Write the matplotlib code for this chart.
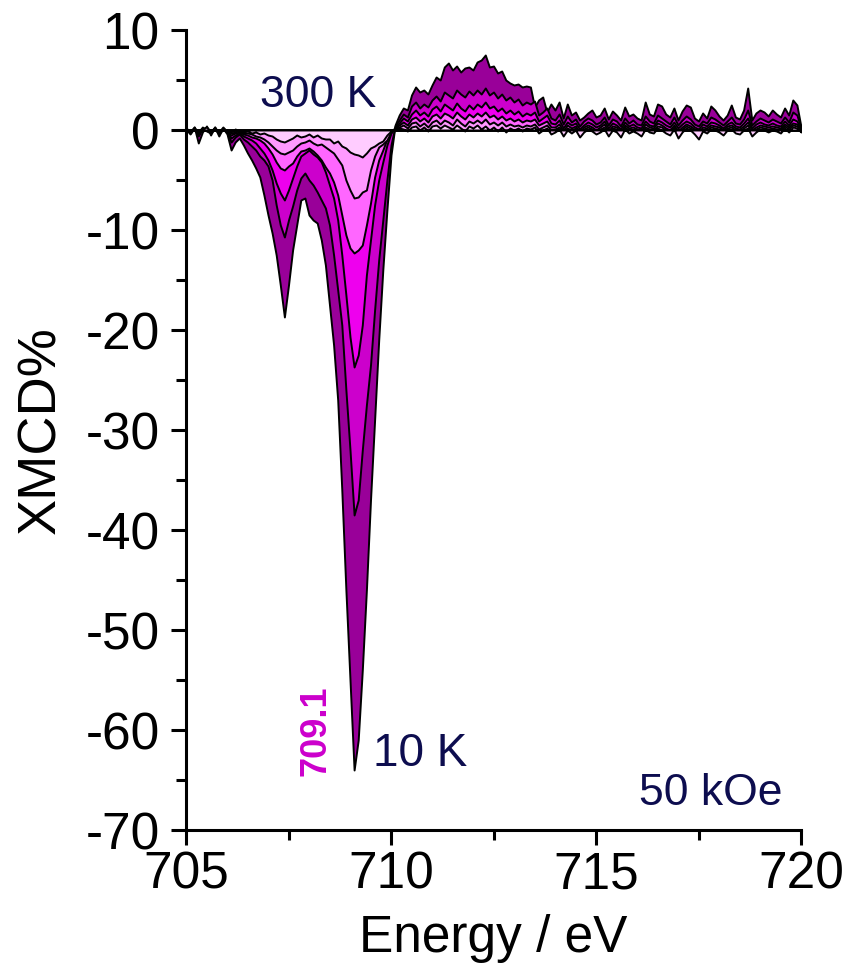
import matplotlib
matplotlib.use("Agg")
import matplotlib.pyplot as plt
from matplotlib.ticker import MultipleLocator
import numpy as np

plt.rcParams['font.family'] = ['Liberation Sans', 'DejaVu Sans']
plt.rcParams['axes.unicode_minus'] = False

# Energy grid (eV), 0.1 eV steps from 705.0 to 720.0
energy = np.round(np.linspace(705.0, 720.0, 151), 1)

# XMCD% curves, from lowest temperature (10 K) to highest (300 K)
xmcd_10K = [
    0.2, -0.3, 0.3, -1.3, -0.2, 0.4, -0.5, 0.3, -0.6, 0.2, -0.4, -2.0, -1.2, -0.8, -1.5,
    -2.3, -3.0, -3.8, -4.7, -6.5, -8.5, -10.3, -12.5, -15.5, -18.7, -15.5, -12.0, -9.5, -7.0, -6.8,
    -8.5, -9.0, -9.3, -11.0, -13.5, -17.5, -21.5, -27.0, -36.0, -46.0, -55.0, -64.0, -61.0, -54.0, -46.0, -37.0, -29.0, -21.0, -14.0, -8.0,
    -2.5, 0.5, 1.5, 2.2, 2.0, 3.5, 4.3, 3.8, 4.0, 3.6, 4.5, 5.3, 5.0, 6.3, 6.7, 6.0, 6.4, 5.8, 6.2, 6.3,
    6.0, 6.8, 7.0, 7.5, 6.3, 6.4, 5.7, 5.9, 5.0, 4.7, 4.5, 4.6, 4.3, 4.4, 4.3, 2.3, 3.0, 3.3, 1.8, 2.6,
    2.0, 2.8, 1.2, 2.6, 1.5, 1.8, 1.0, 1.3, 1.7, 2.0, 1.3, 1.5, 2.2, 1.1, 1.9, 1.5, 1.0, 2.3, 1.4, 1.6,
    1.2, 1.0, 2.8, 1.6, 1.4, 2.6, 2.4, 1.6, 1.3, 2.2, 1.0, 1.9, 2.5, 2.3, 1.2, 0.9, 1.7, 1.2, 2.4, 2.0,
    1.4, 1.0, 1.5, 2.5, 1.3, 1.1, 2.0, 4.2, 1.0, 1.7, 2.0, 1.8, 1.4, 2.0, 1.6, 1.3, 2.2, 1.5, 3.0, 2.5, 0.3,
]
xmcd_T2 = [
    0.1, -0.4, 0.2, -0.6, 0.1, 0.3, -0.3, 0.2, -0.4, 0.1, -0.2, -1.2, -0.7, -0.4, -0.9,
    -1.2, -1.6, -2.0, -2.6, -3.0, -3.6, -5.0, -7.5, -9.5, -10.7, -9.0, -7.6, -6.0, -4.8, -4.3,
    -5.0, -5.5, -6.2, -7.0, -7.8, -9.5, -12.5, -16.0, -19.5, -26.0, -32.0, -38.5, -37.0, -32.0, -27.5, -23.5, -18.0, -13.0, -9.0, -5.0,
    -1.5, 0.4, 1.0, 1.6, 1.3, 2.4, 2.8, 2.2, 2.6, 2.3, 3.0, 3.4, 2.9, 3.8, 3.5, 3.2, 4.0, 3.6, 3.3, 3.9,
    3.5, 4.0, 3.6, 4.2, 3.5, 3.8, 3.2, 3.6, 3.0, 3.3, 2.8, 3.1, 2.5, 2.8, 2.6, 2.9, 1.5, 1.8, 2.2, 1.2,
    1.0, 1.6, 0.6, 1.4, 0.8, 1.1, 0.4, 0.9, 1.2, 1.0, 0.6, 0.8, 1.3, 0.5, 1.1, 0.9, 0.4, 1.2, 0.7, 1.0,
    0.6, 0.5, 1.4, 0.9, 0.7, 1.5, 1.2, 0.9, 0.6, 1.3, 0.5, 1.0, 1.4, 1.1, 0.6, 0.4, 0.9, 0.7, 1.3, 1.1,
    0.8, 0.5, 0.9, 1.3, 0.7, 0.6, 1.1, 2.0, 0.5, 0.9, 1.2, 1.0, 0.8, 1.1, 0.9, 0.7, 1.3, 0.8, 1.8, 1.5, 0.2,
]
xmcd_T3 = [
    0.2, -0.2, 0.3, -0.4, 0.2, 0.1, -0.2, 0.3, -0.3, 0.2, -0.1, -0.8, -0.5, -0.3, -0.6,
    -0.8, -1.0, -1.3, -1.8, -2.3, -3.0, -4.0, -5.3, -6.3, -7.0, -6.0, -4.8, -3.6, -2.6, -2.3,
    -2.0, -2.4, -2.7, -3.2, -4.2, -5.5, -6.8, -9.0, -12.5, -16.5, -20.7, -23.7, -22.5, -19.5, -14.5, -11.0, -7.5, -5.0, -3.2, -1.5,
    -0.3, 0.3, 0.7, 1.2, 0.9, 1.6, 2.0, 1.5, 1.8, 1.4, 2.1, 2.4, 1.9, 2.6, 2.3, 2.0, 2.7, 2.2, 1.9, 2.5,
    2.1, 2.6, 2.3, 2.8, 2.2, 2.4, 1.9, 2.2, 1.7, 2.0, 1.6, 1.9, 1.4, 1.7, 1.5, 1.8, 0.9, 1.2, 1.5, 0.7,
    0.6, 1.0, 0.2, 0.8, 0.5, 0.7, 0.1, 0.5, 0.8, 0.6, 0.3, 0.5, 0.9, 0.2, 0.7, 0.5, 0.1, 0.8, 0.4, 0.6,
    0.3, 0.2, 0.9, 0.5, 0.4, 1.0, 0.8, 0.5, 0.3, 0.8, 0.2, 0.6, 0.9, 0.7, 0.3, 0.1, 0.6, 0.4, 0.8, 0.7,
    0.5, 0.2, 0.6, 0.8, 0.4, 0.3, 0.7, 1.2, 0.2, 0.6, 0.8, 0.6, 0.5, 0.7, 0.5, 0.4, 0.9, 0.5, 1.1, 0.9, 0.1,
]
xmcd_T4 = [
    0.1, -0.3, 0.2, -0.2, 0.3, -0.1, -0.3, 0.2, -0.2, 0.3, -0.2, -0.5, -0.3, -0.2, -0.4,
    -0.5, -0.7, -0.8, -1.0, -1.3, -1.8, -2.4, -3.2, -3.8, -4.0, -3.6, -3.3, -2.6, -2.1, -2.0,
    -1.8, -2.1, -2.5, -3.0, -3.7, -4.3, -5.2, -6.5, -8.5, -10.5, -11.8, -12.3, -12.0, -11.5, -9.5, -7.3, -4.7, -3.0, -2.0, -0.9,
    -0.2, 0.2, 0.5, 0.8, 0.5, 1.1, 1.3, 0.9, 1.2, 0.8, 1.4, 1.6, 1.2, 1.7, 1.5, 1.2, 1.8, 1.4, 1.1, 1.6,
    1.3, 1.7, 1.4, 1.8, 1.3, 1.5, 1.1, 1.4, 1.0, 1.2, 0.9, 1.1, 0.8, 1.0, 0.9, 1.1, 0.5, 0.7, 0.9, 0.3,
    0.3, 0.6, -0.1, 0.5, 0.2, 0.4, -0.2, 0.3, 0.5, 0.3, 0.0, 0.3, 0.6, -0.1, 0.4, 0.3, -0.2, 0.5, 0.2, 0.3,
    0.1, -0.1, 0.6, 0.3, 0.2, 0.7, 0.5, 0.2, 0.0, 0.5, -0.1, 0.3, 0.6, 0.4, 0.1, -0.2, 0.3, 0.2, 0.5, 0.4,
    0.3, 0.0, 0.4, 0.5, 0.2, 0.1, 0.4, 0.8, 0.0, 0.3, 0.5, 0.4, 0.3, 0.4, 0.3, 0.2, 0.6, 0.3, 0.7, 0.6, 0.0,
]
xmcd_T5 = [
    0.2, -0.2, 0.1, -0.3, 0.2, 0.0, -0.2, 0.1, -0.3, 0.2, -0.1, -0.3, -0.2, 0.0, -0.3,
    -0.3, -0.4, -0.6, -0.7, -0.9, -1.2, -1.6, -2.0, -2.3, -2.4, -2.2, -2.0, -1.6, -1.3, -1.2,
    -1.0, -1.3, -1.5, -1.4, -1.7, -2.0, -2.3, -2.9, -3.5, -5.0, -6.0, -6.8, -6.7, -6.2, -6.0, -4.0, -2.6, -1.7, -1.4, -1.0,
    -0.2, 0.1, 0.3, 0.5, 0.2, 0.7, 0.8, 0.4, 0.7, 0.3, 0.8, 1.0, 0.6, 1.0, 0.8, 0.5, 1.1, 0.7, 0.4, 0.9,
    0.7, 1.0, 0.7, 1.1, 0.6, 0.8, 0.5, 0.8, 0.4, 0.6, 0.4, 0.5, 0.3, 0.5, 0.4, 0.6, 0.1, 0.3, 0.5, 0.0,
    0.1, 0.3, -0.3, 0.2, 0.0, 0.2, -0.4, 0.1, 0.3, 0.1, -0.2, 0.1, 0.3, -0.3, 0.2, 0.1, -0.4, 0.3, 0.0, 0.1,
    -0.1, -0.3, 0.3, 0.1, 0.0, 0.4, 0.3, 0.0, -0.2, 0.3, -0.4, 0.1, 0.4, 0.2, -0.1, -0.5, 0.1, 0.0, 0.3, 0.2,
    0.1, -0.2, 0.2, 0.3, 0.0, -0.1, 0.2, 0.5, -0.3, 0.1, 0.3, 0.2, 0.1, 0.2, 0.1, 0.0, 0.4, 0.1, 0.5, 0.4, -0.1,
]
xmcd_300K = [
    0.1, -0.1, 0.2, -0.2, 0.1, 0.3, -0.1, 0.2, -0.2, 0.1, 0.0, -0.2, 0.1, -0.1, -0.2,
    -0.1, -0.3, -0.2, -0.4, -0.3, -0.5, -0.6, -0.9, -1.1, -1.2, -1.0, -0.8, -0.5, -0.7, -0.6,
    -0.4, -0.7, -0.5, -0.8, -0.9, -0.9, -1.3, -1.1, -1.6, -1.8, -2.2, -2.4, -2.5, -2.7, -2.3, -1.8, -1.6, -1.3, -1.1, -0.5,
    -0.1, 0.0, 0.2, 0.1, -0.1, 0.3, 0.4, 0.0, 0.3, -0.1, 0.4, 0.5, 0.2, 0.5, 0.3, 0.1, 0.5, 0.2, -0.1, 0.4,
    0.2, 0.5, 0.1, 0.4, 0.0, 0.3, -0.1, 0.3, -0.2, 0.2, 0.0, 0.2, -0.1, 0.2, 0.1, 0.3, -0.3, 0.0, 0.2, -0.4,
    -0.2, 0.1, -0.6, 0.0, -0.3, 0.0, -0.7, -0.2, 0.1, -0.1, -0.4, -0.2, 0.1, -0.6, 0.0, -0.2, -0.7, 0.1, -0.3, -0.1,
    -0.3, -0.6, 0.1, -0.2, -0.3, 0.2, 0.0, -0.3, -0.5, 0.1, -0.8, -0.2, 0.2, 0.0, -0.4, -0.9, -0.1, -0.3, 0.1, 0.0,
    -0.2, -0.5, 0.0, 0.1, -0.3, -0.4, 0.0, 0.2, -0.6, -0.2, 0.1, 0.0, -0.2, 0.0, -0.1, -0.3, 0.2, -0.2, 0.3, 0.2, -0.2,
]

series = [xmcd_10K, xmcd_T2, xmcd_T3, xmcd_T4, xmcd_T5, xmcd_300K]
fill_colors = ['#990099', '#cc00cc', '#ee00ee', '#ff66ff', '#ff99ff', '#ffccff']

x_ticks = [705, 710, 715, 720]
y_ticks = [10, 0, -10, -20, -30, -40, -50, -60, -70]

fig = plt.figure(figsize=(8.5, 9.76), dpi=100)
ax = fig.add_axes([186/850, 1 - 830/976, (801 - 186)/850, (830 - 30)/976])

for ys, c in zip(series, fill_colors):
    ax.fill_between(energy, ys, 0, facecolor=c, edgecolor='black', linewidth=1.4, zorder=2)

ax.set_xlim(705, 720)
ax.set_ylim(-70, 10)
ax.set_xticks(x_ticks)
ax.set_yticks(y_ticks)
ax.xaxis.set_minor_locator(MultipleLocator(2.5))
ax.yaxis.set_minor_locator(MultipleLocator(5))

for s in ['top', 'right']:
    ax.spines[s].set_visible(False)
for s in ['left', 'bottom']:
    ax.spines[s].set_linewidth(2.2)

ax.tick_params(which='major', direction='out', length=11, width=2.2, labelsize=37, pad=4)
ax.tick_params(which='minor', direction='out', length=7, width=2.2)
ax.tick_params(axis='y', which='major', pad=8)

ax.set_xlabel('Energy / eV', fontsize=37, labelpad=10)
ax.set_ylabel('XMCD%', fontsize=39, labelpad=14)

navy = '#0d0d4f'
ax.text(706.8, 2.3, '300 K', fontsize=32, color=navy, ha='left', va='baseline')
ax.text(709.56, -63.6, '10 K', fontsize=33, color=navy, ha='left', va='baseline')
ax.text(719.56, -67.5, '50 kOe', fontsize=32, color=navy, ha='right', va='baseline')
ax.text(708.17, -60.1, '709.1', fontsize=26, color='#cc00cc', fontweight='bold',
        rotation=90, ha='center', va='center')

fig.savefig('out.png', dpi=100)
